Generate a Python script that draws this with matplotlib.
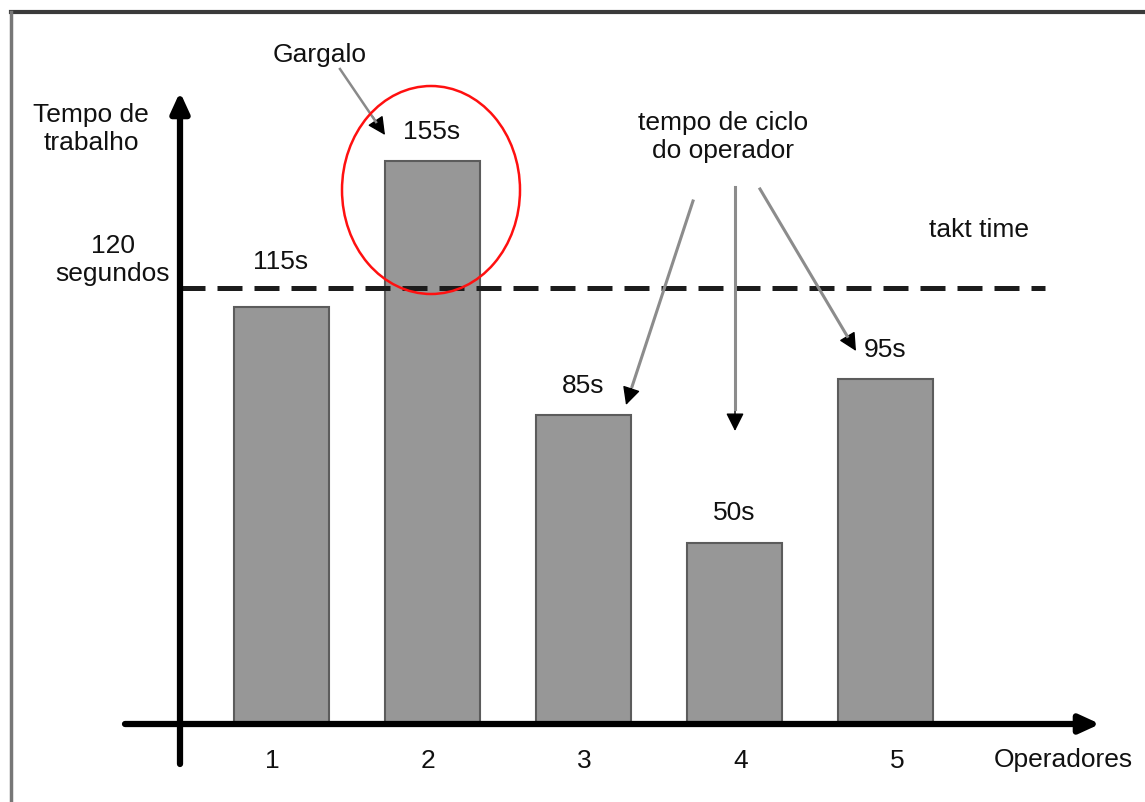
import matplotlib
matplotlib.use("Agg")
import matplotlib.pyplot as plt
from matplotlib.patches import Ellipse
from matplotlib.lines import Line2D

plt.rcParams['font.family'] = ['Liberation Sans', 'DejaVu Sans']

# Data
operadores = [1, 2, 3, 4, 5]
tempos = [115, 155, 85, 50, 95]
tick_labels = ["1", "2", "3", "4", "5"]
takt_time = 120

W, H = 1145, 803
fig = plt.figure(figsize=(W / 100, H / 100), dpi=100)
fig.patch.set_facecolor("white")
ax = fig.add_axes([0, 0, 1, 1])
ax.set_axis_off()

# Data scale: operators 151 px apart, baseline at 78 px from the bottom
x_scale, x0_px = 151.0, 281.0
y_scale, y0_px = 3.63, 78.0
ax.set_xlim(1 - x0_px / x_scale, 1 + (W - x0_px) / x_scale)
ax.set_ylim(-y0_px / y_scale, (H - y0_px) / y_scale)


def px(x, y):
    """Pixel position measured from the top-left corner -> figure fraction."""
    return (x / W, 1 - y / H)


def dx(x_px):
    return 1 + (x_px - x0_px) / x_scale


def dy(y_px_top):
    return ((H - y_px_top) - y0_px) / y_scale


FS = 19
TXT = "#111111"
LS = 1.22

# Frame around the figure
fig.add_artist(Line2D([11 / W, 1.0], [1 - 13 / H] * 2, transform=fig.transFigure,
                      color="#3a3a3a", lw=3))
fig.add_artist(Line2D([11 / W] * 2, [1 - 13 / H, 0], transform=fig.transFigure,
                      color="#777777", lw=2.5))

# Bars
ax.bar(operadores, tempos, width=95 / x_scale, color="#979797",
       edgecolor="#5c5c5c", linewidth=1.5, zorder=2)
for x, v in zip(operadores, tempos):
    # keep the value label clear of the takt line when the bar sits just below it
    off = 30
    if takt_time - 12 < v < takt_time:
        off = 46
    ax.annotate(f"{v}s", (x, v), xytext=(0, off), textcoords="offset pixels",
                ha="center", va="center", fontsize=FS, color=TXT, zorder=5)

# Takt time dashed line
lw_pt = 3.6
ax.plot([dx(180), dx(1045)], [takt_time, takt_time], color="#1c1c1c", lw=lw_pt,
        ls=(0, (5, 2.4)), solid_capstyle="butt", dash_capstyle="butt", zorder=3)

# Axes with arrows
ax.annotate("", xy=(dx(1100), 0), xytext=(dx(125), 0),
            arrowprops=dict(arrowstyle="-|>,head_length=1.2,head_width=0.55",
                            color="black", lw=4.5, shrinkA=0, shrinkB=0), zorder=4)
ax.annotate("", xy=(dx(180), dy(93)), xytext=(dx(180), dy(765)),
            arrowprops=dict(arrowstyle="-|>,head_length=1.2,head_width=0.55",
                            color="black", lw=4.5, shrinkA=0, shrinkB=0), zorder=4)

# Tick labels along the x axis
for x, lab in zip(operadores, tick_labels):
    ax.text(x - 0.06 + 0.035 * (x - 1), dy(761), lab, ha="center", va="center",
            fontsize=FS, color=TXT)

# Axis texts
fig.text(*px(1063, 760), "Operadores", ha="center", va="center", fontsize=FS, color=TXT)
fig.text(*px(91, 129), "Tempo de\ntrabalho", ha="center", va="center",
         fontsize=FS, color=TXT, linespacing=LS)
fig.text(*px(170, 260), "120\nsegundos", ha="right", va="center",
         fontsize=FS, color=TXT, linespacing=LS, multialignment="center")
fig.text(*px(979, 230), "takt time", ha="center", va="center", fontsize=FS, color=TXT)

# Bottleneck highlight
fig.text(*px(320, 55), "Gargalo", ha="center", va="center", fontsize=FS, color=TXT)
fig.add_artist(Ellipse(px(431, 191), 178 / W, 208 / H, transform=fig.transFigure,
                       fill=False, edgecolor="#ff1010", lw=1.8, zorder=6))
fig.add_artist(Line2D([340 / W, 376 / W], [1 - 70 / H, 1 - 123 / H],
                      transform=fig.transFigure, color="#8a8a8a", lw=1.8))
ax.annotate("", xy=px(385, 136), xytext=px(373, 118), xycoords="figure fraction",
            textcoords="figure fraction",
            arrowprops=dict(arrowstyle="-|>,head_length=1.1,head_width=0.55",
                            color="black", lw=1, shrinkA=0, shrinkB=0))

# Operator cycle time callout
fig.text(*px(723, 137), "tempo de ciclo\ndo operador", ha="center", va="center",
         fontsize=FS, color=TXT, linespacing=LS)
arrows = [((693, 202), (626, 406)), ((735, 188), (735, 432)), ((760, 190), (856, 352))]
for (x1, y1), (x2, y2) in arrows:
    # grey shaft, black head
    fx, fy = x2 - (x2 - x1) * 0.09, y2 - (y2 - y1) * 0.09
    fig.add_artist(Line2D([x1 / W, fx / W], [1 - y1 / H, 1 - fy / H],
                          transform=fig.transFigure, color="#8c8c8c", lw=2.2))
    ax.annotate("", xy=px(x2, y2), xytext=px(fx, fy), xycoords="figure fraction",
                textcoords="figure fraction",
                arrowprops=dict(arrowstyle="-|>,head_length=1.1,head_width=0.55",
                                color="black", lw=1, shrinkA=0, shrinkB=0))

fig.savefig("out.png", dpi=100)
